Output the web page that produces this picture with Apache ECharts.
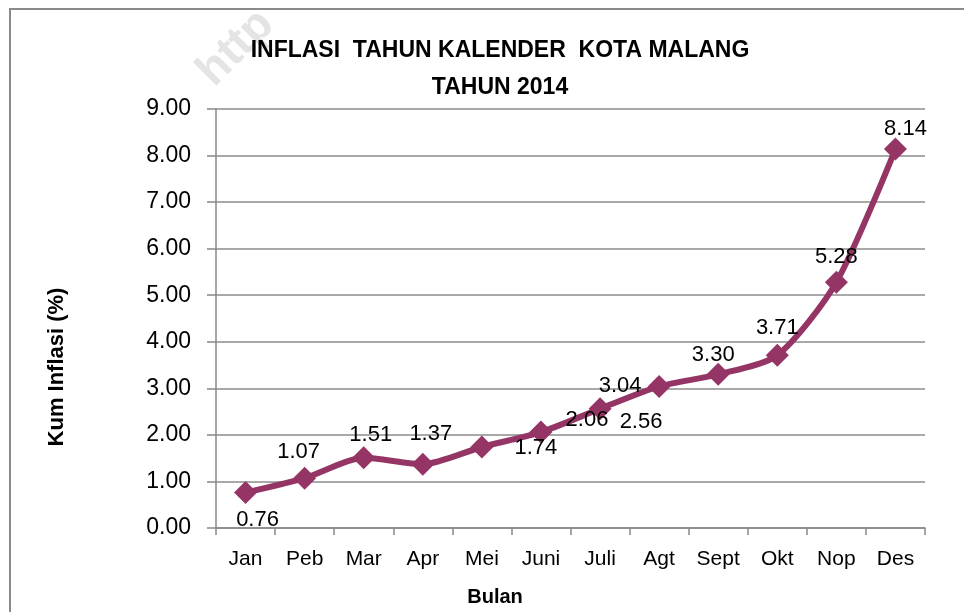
<!DOCTYPE html>
<html>
<head>
<meta charset="utf-8">
<title>Inflasi Kota Malang 2014</title>
<script src="https://cdn.jsdelivr.net/npm/echarts@6/dist/echarts.min.js"></script>
<style>
  html, body { margin: 0; padding: 0; background: #fff; }
  #main { width: 964px; height: 612px; }
</style>
</head>
<body>
<div id="main"></div>
<script>
    // data
    var months = ['Jan', 'Peb', 'Mar', 'Apr', 'Mei', 'Juni', 'Juli', 'Agt', 'Sept', 'Okt', 'Nop', 'Des'];
    var inflasi = [0.76, 1.07, 1.51, 1.37, 1.74, 2.06, 2.56, 3.04, 3.30, 3.71, 5.28, 8.14];
    var yTicks = [0, 1, 2, 3, 4, 5, 6, 7, 8, 9];

    // label offsets (px) for each point, as placed in the original
    var labelOffsets = [
        [12, 27], [-6, -26], [7, -23], [8, -30], [54, 1], [46, -12],
        [41, 13], [-39, -1], [-5, -19], [0, -27], [0, -25], [10, -20]
    ];

    var font = '"Liberation Sans", Arial, sans-serif';
    var lineColor = '#953565';

    var myChart = echarts.init(document.getElementById('main'));

    var seriesData = inflasi.map(function (v, i) {
        return {
            value: v,
            label: {
                show: true,
                position: 'inside',
                align: 'center',
                verticalAlign: 'middle',
                offset: labelOffsets[i],
                formatter: function (p) { return p.value.toFixed(2); },
                fontSize: 22,
                fontFamily: font,
                color: '#000'
            }
        };
    });

    var option = {
        animation: false,
        backgroundColor: '#fff',
        title: {
            text: 'INFLASI  TAHUN KALENDER  KOTA MALANG\nTAHUN 2014',
            left: 495,
            top: 27,
            textAlign: 'center',
            textStyle: {
                fontFamily: font,
                fontWeight: 'bold',
                fontSize: 23,
                lineHeight: 37,
                color: '#000'
            }
        },
        graphic: [
            {
                // faint watermark, clipped at the top border
                type: 'text',
                x: 236,
                y: 48,
                rotation: Math.PI / 4,
                style: {
                    text: 'http',
                    font: 'bold 46px ' + font,
                    fill: '#e4e4e4',
                    textAlign: 'center',
                    textVerticalAlign: 'middle'
                },
                z: -2
            },
            {
                type: 'rect',
                shape: { x: 0, y: 0, width: 964, height: 9 },
                style: { fill: '#fff' },
                z: -1
            },
            {
                type: 'rect',
                shape: { x: 10, y: 9, width: 1000, height: 700 },
                style: { fill: 'none', stroke: '#8a8a8a', lineWidth: 2 },
                z: -1
            },
            {
                type: 'text',
                x: 57,
                y: 367,
                rotation: Math.PI / 2,
                style: {
                    text: 'Kum Inflasi (%)',
                    font: 'bold 22px ' + font,
                    fill: '#000',
                    textAlign: 'center',
                    textVerticalAlign: 'middle'
                }
            },
            {
                type: 'text',
                x: 495,
                y: 597,
                style: {
                    text: 'Bulan',
                    font: 'bold 20px ' + font,
                    fill: '#000',
                    textAlign: 'center',
                    textVerticalAlign: 'middle'
                }
            }
        ],
        grid: {
            left: 216,
            right: 39,
            top: 109,
            bottom: 84,
            containLabel: false,
            outerBoundsMode: 'none'
        },
        xAxis: {
            type: 'category',
            data: months,
            boundaryGap: true,
            axisLine: { lineStyle: { color: '#888', width: 1.5 } },
            axisTick: { show: true, length: 7, lineStyle: { color: '#888', width: 1.5 } },
            axisLabel: {
                margin: 21,
                fontFamily: font,
                fontSize: 21,
                color: '#000'
            }
        },
        yAxis: {
            type: 'value',
            min: yTicks[0],
            max: yTicks[yTicks.length - 1],
            interval: 1,
            axisLine: { show: true, lineStyle: { color: '#888', width: 1.5 } },
            axisTick: { show: true, length: 9, lineStyle: { color: '#888', width: 1.5 } },
            axisLabel: {
                margin: 25,
                fontFamily: font,
                fontSize: 23,
                color: '#000',
                formatter: function (v) { return v.toFixed(2); }
            },
            splitLine: { show: true, lineStyle: { color: '#8c8c8c', width: 1.5 } }
        },
        series: [{
            name: 'Kum Inflasi',
            type: 'line',
            data: seriesData,
            smooth: 0.25,
            symbol: 'diamond',
            symbolSize: 23,
            itemStyle: { color: lineColor },
            lineStyle: { color: lineColor, width: 6 }
        }]
    };

    myChart.setOption(option);
</script>
</body>
</html>
